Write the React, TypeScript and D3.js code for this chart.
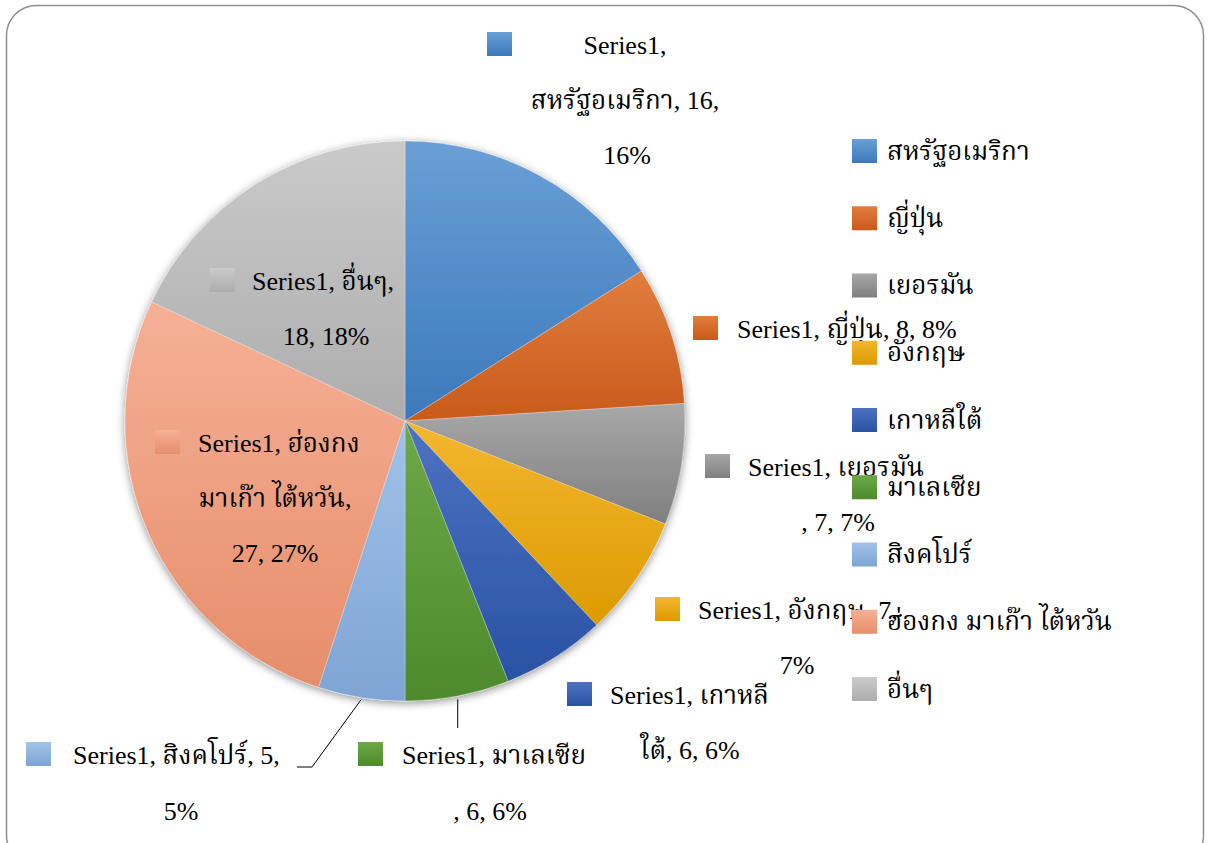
import React from "react";
import * as d3 from "d3";

const seriesName = "Series1";
const categories = [
  "สหรัฐอเมริกา",
  "ญี่ปุ่น",
  "เยอรมัน",
  "อังกฤษ",
  "เกาหลีใต้",
  "มาเลเซีย",
  "สิงคโปร์",
  "ฮ่องกง มาเก๊า ไต้หวัน",
  "อื่นๆ",
];
const values = [16, 8, 7, 7, 6, 6, 5, 27, 18];
const colorsTop = ["#6a9fd6", "#e17d3e", "#a8a8a8", "#f3b630", "#4d72c2", "#6ca948", "#a2c3e8", "#f6b096", "#cacaca"];
const colorsBottom = ["#3c79bc", "#c95a1b", "#7f7f7f", "#dc9b00", "#2a52a4", "#4d8a2c", "#7ea4d5", "#e68e6b", "#adadad"];

type LabelLayout = { sx: number; sy: number; lines: { text: string; x: number; y: number; anchor: string }[] };
const FONT = "'Liberation Serif', 'Times New Roman', 'Noto Serif Thai', 'Noto Sans Thai', serif";

export default function App() {
  const W = 1209, H = 843;
  const cx = 405, cy = 421, r = 280;
  const total = d3.sum(values);
  const pct = (v: number) => `${Math.round((v / total) * 100)}%`;
  const pie = d3.pie<number>().sort(null).value((d) => d)(values);
  const arc = d3.arc<d3.PieArcDatum<number>>().innerRadius(0).outerRadius(r);

  const labels: LabelLayout[] = [
    { sx: 487, sy: 32, lines: [
      { text: `${seriesName},`, x: 625, y: 45, anchor: "middle" },
      { text: `${categories[0]}, ${values[0]},`, x: 625, y: 100, anchor: "middle" },
      { text: pct(values[0]), x: 627, y: 155, anchor: "middle" },
    ] },
    { sx: 693, sy: 316, lines: [
      { text: `${seriesName}, ${categories[1]}, ${values[1]}, ${pct(values[1])}`, x: 737, y: 329, anchor: "start" },
    ] },
    { sx: 705, sy: 454, lines: [
      { text: `${seriesName}, ${categories[2]}`, x: 748, y: 467, anchor: "start" },
      { text: `, ${values[2]}, ${pct(values[2])}`, x: 838, y: 522, anchor: "middle" },
    ] },
    { sx: 655, sy: 597, lines: [
      { text: `${seriesName}, ${categories[3]}, ${values[3]},`, x: 698, y: 610, anchor: "start" },
      { text: pct(values[3]), x: 797, y: 665, anchor: "middle" },
    ] },
    { sx: 567, sy: 682, lines: [
      { text: `${seriesName}, เกาหลี`, x: 610, y: 695, anchor: "start" },
      { text: `ใต้, ${values[4]}, ${pct(values[4])}`, x: 690, y: 750, anchor: "middle" },
    ] },
    { sx: 358, sy: 742, lines: [
      { text: `${seriesName}, ${categories[5]}`, x: 402, y: 755, anchor: "start" },
      { text: `, ${values[5]}, ${pct(values[5])}`, x: 490, y: 811, anchor: "middle" },
    ] },
    { sx: 26, sy: 742, lines: [
      { text: `${seriesName}, ${categories[6]}, ${values[6]},`, x: 73, y: 755, anchor: "start" },
      { text: pct(values[6]), x: 181, y: 811, anchor: "middle" },
    ] },
    { sx: 155, sy: 430, lines: [
      { text: `${seriesName}, ฮ่องกง`, x: 198, y: 443, anchor: "start" },
      { text: `มาเก๊า ไต้หวัน,`, x: 275, y: 498, anchor: "middle" },
      { text: `${values[7]}, ${pct(values[7])}`, x: 275, y: 553, anchor: "middle" },
    ] },
    { sx: 210, sy: 268, lines: [
      { text: `${seriesName}, ${categories[8]},`, x: 252, y: 281, anchor: "start" },
      { text: `${values[8]}, ${pct(values[8])}`, x: 326, y: 336, anchor: "middle" },
    ] },
  ];

  const legendY = d3.scalePoint<number>().domain(d3.range(categories.length)).range([151, 689]);

  const edge = (i: number, k: number) => {
    const a = (pie[i].startAngle + pie[i].endAngle) / 2;
    return [cx + Math.sin(a) * r * k, cy - Math.cos(a) * r * k];
  };
  const m = edge(5, 1.005);
  const s = edge(6, 1.0);

  return (
    <svg width={W} height={H} style={{ position: "absolute", left: 0, top: 0, background: "#fff" }} fontFamily={FONT}>
      <defs>
        {categories.map((_, i) => (
          <linearGradient key={i} id={`g${i}`} x1="0" y1="0" x2="0" y2="1">
            <stop offset="0" stopColor={colorsTop[i]} />
            <stop offset="1" stopColor={colorsBottom[i]} />
          </linearGradient>
        ))}
        <filter id="shadow" x="-10%" y="-10%" width="120%" height="120%">
          <feGaussianBlur in="SourceAlpha" stdDeviation="4" />
          <feOffset dx="0" dy="2" result="b" />
          <feFlood floodColor="#000" floodOpacity="0.45" />
          <feComposite in2="b" operator="in" />
          <feMerge>
            <feMergeNode />
            <feMergeNode in="SourceGraphic" />
          </feMerge>
        </filter>
      </defs>
      <rect x={6.5} y={5.5} width={1197} height={860} rx={30} ry={30} fill="#fff" stroke="#8e8e8e" strokeWidth={1.5} />
      <g transform={`translate(${cx},${cy})`} filter="url(#shadow)">
        {pie.map((p, i) => (
          <path key={i} d={arc(p) || ""} fill={`url(#g${i})`} stroke="#ffffff" strokeOpacity={0.35} strokeWidth={0.8} />
        ))}
      </g>
      <line x1={m[0]} y1={m[1] + 2} x2={m[0]} y2={728} stroke="#000" strokeWidth={1} />
      <polyline points={`${s[0]},${s[1] + 2} 312,767 297,767`} fill="none" stroke="#000" strokeWidth={1} />
      {labels.map((l, i) => (
        <g key={i}>
          <rect x={l.sx} y={l.sy} width={25} height={24} fill={`url(#g${i})`} />
          {l.lines.map((t, j) => (
            <text key={j} x={t.x} y={t.y} textAnchor={t.anchor as any} dominantBaseline="central" fontSize={26} fill="#000">
              {t.text}
            </text>
          ))}
        </g>
      ))}
      {categories.map((c, i) => (
        <g key={c}>
          <rect x={852} y={legendY(i)! - 12} width={25} height={24} fill={`url(#g${i})`} />
          <text x={887} y={legendY(i)} dominantBaseline="central" fontSize={26} fill="#000">{c}</text>
        </g>
      ))}
    </svg>
  );
}
